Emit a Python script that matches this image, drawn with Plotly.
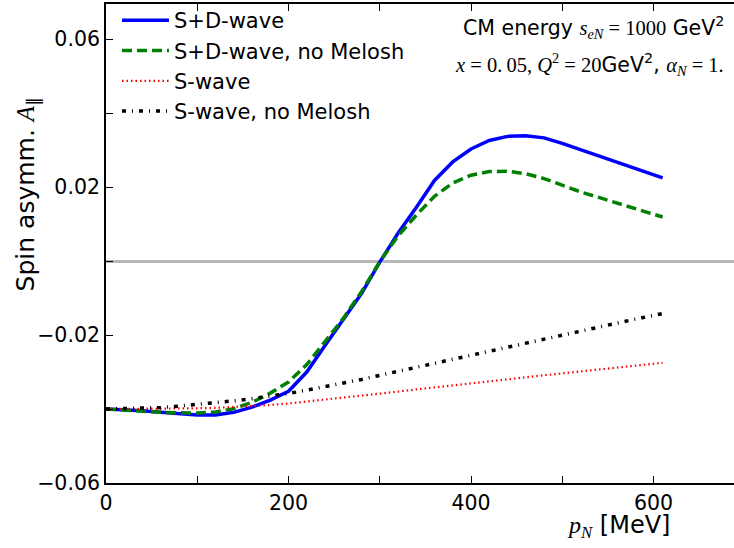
import plotly.graph_objects as go

# ---- data ----
p_N = [0, 20, 40, 60, 80, 100, 120, 140, 160, 180, 200, 220, 240, 260, 280, 300,
       320, 340, 360, 380, 400, 420, 440, 460, 480, 500, 520, 540, 560, 580, 600, 610]

sd_wave = [-0.0400, -0.0402, -0.0405, -0.0409, -0.0413, -0.0416, -0.0416, -0.0409,
           -0.0395, -0.0376, -0.0352, -0.0300, -0.0228, -0.0160, -0.0088, -0.0003,
           0.0075, 0.0145, 0.0218, 0.0268, 0.0303, 0.0326, 0.0337, 0.0339,
           0.0333, 0.0318, 0.0301, 0.0284, 0.0267, 0.0250, 0.0233, 0.0225]

sd_wave_no_melosh = [-0.0400, -0.0402, -0.0406, -0.0409, -0.0411, -0.0411, -0.0408, -0.0399,
                     -0.0382, -0.0357, -0.0327, -0.0280, -0.0218, -0.0155, -0.0083, -0.0002,
                     0.0068, 0.0124, 0.0175, 0.0211, 0.0232, 0.0242, 0.0243, 0.0236,
                     0.0223, 0.0205, 0.0187, 0.0172, 0.0157, 0.0142, 0.0127, 0.0119]

s_wave = [-0.0400, -0.0400, -0.0400, -0.0400, -0.0399, -0.0398, -0.0397, -0.0395,
          -0.0392, -0.0389, -0.0385, -0.0380, -0.0375, -0.0369, -0.0364, -0.0358,
          -0.0353, -0.0347, -0.0342, -0.0336, -0.0331, -0.0325, -0.0320, -0.0314,
          -0.0309, -0.0303, -0.0298, -0.0292, -0.0287, -0.0282, -0.0277, -0.0275]

s_wave_no_melosh = [-0.0400, -0.0399, -0.0398, -0.0396, -0.0392, -0.0388, -0.0383, -0.0378,
                    -0.0372, -0.0366, -0.0358, -0.0349, -0.0340, -0.0330, -0.0320, -0.0309,
                    -0.0298, -0.0288, -0.0277, -0.0266, -0.0255, -0.0244, -0.0233, -0.0222,
                    -0.0211, -0.0200, -0.0189, -0.0178, -0.0168, -0.0157, -0.0147, -0.0142]

x_tick_vals = [0, 100, 200, 300, 400, 500, 600]
x_tick_text = ["0", "", "200", "", "400", "", "600"]
y_tick_vals = [-0.06, -0.04, -0.02, 0.0, 0.02, 0.04, 0.06]
y_tick_text = ["\u22120.06", "", "\u22120.02", "", "0.02", "", "0.06"]

series_names = ["S+D-wave", "S+D-wave, no Melosh", "S-wave", "S-wave, no Melosh"]

FONT = "DejaVu Sans"
MATH = "Liberation Serif"

fig = go.Figure()
fig.add_trace(go.Scatter(x=p_N, y=sd_wave, mode="lines", name=series_names[0],
                         line=dict(color="#0000ff", width=3.5)))
fig.add_trace(go.Scatter(x=p_N, y=sd_wave_no_melosh, mode="lines", name=series_names[1],
                         line=dict(color="#008000", width=3.5, dash="10px,5px")))
fig.add_trace(go.Scatter(x=p_N, y=s_wave, mode="lines", name=series_names[2],
                         line=dict(color="#ff0000", width=2.2, dash="1.5px,3px")))
fig.add_trace(go.Scatter(x=p_N, y=s_wave_no_melosh, mode="lines", name=series_names[3],
                         line=dict(color="#000000", width=3.5, dash="4px,6px,1px,6px")))

W, H = 734, 548
L, R, T, B = 106, 0, 0, 65
pw, ph = W - L - R, H - T - B
x_px_per_unit = 0.9125
y_px_per_unit = 3730.0
x_max = pw / x_px_per_unit
y_min = -0.06
y_max = y_min + ph / y_px_per_unit


def px_x(px):
    return (px - L) / pw


def px_y(py):
    return (H - B - py) / ph


fig.update_layout(
    width=W, height=H,
    margin=dict(l=L, r=R, t=T, b=B),
    paper_bgcolor="white", plot_bgcolor="white",
    font=dict(family=FONT, size=20.5, color="black"),
    showlegend=True,
    legend=dict(x=px_x(117), y=px_y(-4), xanchor="left", yanchor="top",
                bgcolor="rgba(0,0,0,0)", borderwidth=0, itemwidth=47,
                font=dict(family=FONT, size=21, color="black"),
                tracegroupgap=0),
    xaxis=dict(range=[0, x_max], tickmode="array", tickvals=x_tick_vals, ticktext=x_tick_text,
               ticks="inside", ticklen=7, tickwidth=1.3, tickcolor="black",
               showline=True, linecolor="black", linewidth=1.8, mirror="ticks",
               showgrid=False, zeroline=False,
               tickfont=dict(family=FONT, size=20.5, color="black")),
    yaxis=dict(range=[y_min, y_max], tickmode="array", tickvals=y_tick_vals, ticktext=y_tick_text,
               ticks="inside", ticklen=7, tickwidth=1.3, tickcolor="black",
               showline=True, linecolor="black", linewidth=1.8, mirror=False,
               showgrid=False, zeroline=True, zerolinecolor="#b8b8b8", zerolinewidth=2.6,
               tickfont=dict(family=FONT, size=20.5, color="black")),
)

ann = [
    dict(text=("CM energy <span style=\"font-family:%s\"><i>s</i><sub><i>eN</i></sub> = 1000</span> GeV<sup>2</sup>" % MATH),
         x=px_x(726), y=px_y(24), xanchor="right", yanchor="middle", font=dict(size=20.5)),
    dict(text=("<span style=\"font-family:%s\"><i>x</i> = 0.\u200905, <i>Q</i><sup>2</sup> = 20</span>GeV<sup>2</sup>, "
               "<span style=\"font-family:%s\"><i>\u03b1</i><sub><i>N</i></sub> = 1.</span>" % (MATH, MATH)),
         x=px_x(726), y=px_y(61), xanchor="right", yanchor="middle", font=dict(size=20.5)),
    dict(text=("<span style=\"font-family:%s\"><i>p</i><sub><i>N</i></sub></span> [MeV]" % MATH),
         x=px_x(672), y=px_y(527), xanchor="right", yanchor="middle", font=dict(size=24)),
    dict(text=("Spin asymm. <span style=\"font-family:%s\"><i>A</i></span><sub>\u2225</sub>" % MATH),
         x=px_x(27), y=px_y(192), xanchor="center", yanchor="middle", textangle=-90,
         font=dict(size=25)),
]
for a in ann:
    a.update(xref="paper", yref="paper", showarrow=False)
    fig.add_annotation(**a)

fig.write_html("out.html", config={"displayModeBar": False},
               post_script="document.body.style.margin='0px';")
